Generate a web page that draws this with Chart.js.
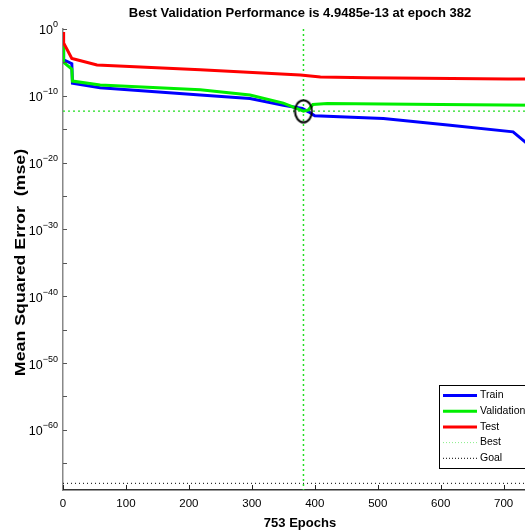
<!DOCTYPE html>
<html>
<head>
<meta charset="UTF-8">
<title>Best Validation Performance</title>
<style>
  html, body { margin: 0; padding: 0; background: #fff; overflow: hidden; }
  #wrap { width: 545px; height: 531px; }
</style>
</head>
<body>
<div id="wrap"><canvas id="perfChart" width="545" height="531"></canvas></div>
<script src="https://cdn.jsdelivr.net/npm/chart.js"></script>
<script>
// values (epoch, mse)
const trainEpochs = [0, 1, 14, 15, 59, 218, 297, 350, 380, 390, 400, 509, 615, 715, 734, 753];
const trainMse = [4e-3, 2.5e-5, 6.3e-6, 7.9e-9, 1.6e-9, 1.3e-10, 4e-11, 4e-12, 1.3e-12, 4e-13, 1e-13, 4e-14, 4e-15, 4e-16, 1.3e-17, 3.2e-19];

const valEpochs = [0, 1, 14, 15, 59, 218, 297, 350, 366, 382, 390, 397, 420, 600, 753];
const valMse = [4e-3, 1e-5, 1e-6, 1.6e-8, 4e-9, 8e-10, 1.3e-10, 8e-12, 2e-12, 4.9485e-13, 8e-13, 5e-12, 7e-12, 5e-12, 4e-12];

const testEpochs = [0, 1, 14, 22, 54, 218, 377, 409, 483, 707, 753];
const testMse = [0.35, 8e-3, 4e-5, 2.5e-5, 4e-6, 8e-7, 1.3e-7, 6.3e-8, 5e-8, 3.2e-8, 3.2e-8];

const bestEpoch = 382;
const bestPerf = 4.9485e-13;
const goalMse = 1e-68;
const totalEpochs = 753;
const xTicks = [0, 100, 200, 300, 400, 500, 600, 700];
const yTickExps = [0, -5, -10, -15, -20, -25, -30, -35, -40, -45, -50, -55, -60, -65];
const yMin = 1e-69, yMax = 1;
const yTitle = 'Mean Squared Error  (mse)';

const FONT = "'Liberation Sans', Arial, Helvetica, sans-serif";
const BEST_GREEN = '#22dd22';

function pts(xs, ys) { return xs.map((x, i) => ({ x: x, y: ys[i] })); }

// ellipse marker for the best point
const ring = document.createElement('canvas');
ring.width = 20; ring.height = 25;
(function () {
  const c = ring.getContext('2d');
  c.strokeStyle = '#000'; c.lineWidth = 2;
  c.beginPath(); c.ellipse(10, 12.5, 8.5, 11, 0, 0, Math.PI * 2); c.stroke();
})();

const legendRows = [
  { text: 'Train', color: '#0000ff', width: 3, dash: [] },
  { text: 'Validation', color: '#00ee00', width: 3, dash: [] },
  { text: 'Test', color: '#ff0000', width: 3, dash: [] },
  { text: 'Best', color: '#88ee88', width: 1, dash: [1, 2] },
  { text: 'Goal', color: '#000000', width: 1, dash: [1, 2] }
];

const axisExtras = {
  id: 'axisExtras',
  afterDraw(chart) {
    const ctx = chart.ctx, a = chart.chartArea;
    const xs = chart.scales.x, ys = chart.scales.y;
    ctx.save();
    // inward tick marks
    ctx.strokeStyle = '#555'; ctx.lineWidth = 1;
    ys.ticks.forEach(t => {
      const p = Math.round(ys.getPixelForValue(t.value)) + 0.5;
      ctx.beginPath(); ctx.moveTo(a.left, p); ctx.lineTo(a.left + 4, p); ctx.stroke();
    });
    ctx.strokeStyle = '#222';
    xs.ticks.forEach(t => {
      const p = Math.round(xs.getPixelForValue(t.value)) + 0.5;
      ctx.beginPath(); ctx.moveTo(p, a.bottom); ctx.lineTo(p, a.bottom - 5); ctx.stroke();
    });
    // y tick labels as 10 with a raised exponent
    ctx.fillStyle = '#000'; ctx.textBaseline = 'middle';
    ys.ticks.forEach(t => {
      const e = Math.round(Math.log10(t.value));
      if (e % 10 !== 0) return;
      const p = ys.getPixelForValue(t.value);
      const right = a.left - 5;
      ctx.font = '9px ' + FONT;
      const ex = String(e).replace('-', '\u2212');
      const ew = ctx.measureText(ex).width;
      ctx.textAlign = 'left';
      ctx.fillText(ex, right - ew, p - 4);
      ctx.font = '12.5px ' + FONT;
      ctx.textAlign = 'right';
      ctx.fillText('10', right - ew, p + 2);
    });
    // y axis title, stretched along the axis like the source
    ctx.save();
    ctx.translate(21, (a.top + a.bottom) / 2 + 3);
    ctx.rotate(-Math.PI / 2);
    ctx.scale(1.27, 1);
    ctx.font = 'bold 14px ' + FONT; ctx.textAlign = 'center'; ctx.textBaseline = 'middle';
    ctx.fillText(yTitle, 0, 0);
    ctx.restore();
    // legend box
    const bx = 439.5, by = 385.5, bw = 100, bh = 83;
    ctx.fillStyle = '#fff'; ctx.fillRect(bx, by, bw, bh);
    ctx.strokeStyle = '#000'; ctx.setLineDash([]); ctx.strokeRect(bx, by, bw, bh);
    ctx.font = '10.5px ' + FONT; ctx.textBaseline = 'middle'; ctx.textAlign = 'left'; ctx.fillStyle = '#000';
    legendRows.forEach((r, i) => {
      const y = 395.5 + i * 15.7;
      ctx.save();
      ctx.strokeStyle = r.color; ctx.lineWidth = r.width; ctx.setLineDash(r.dash);
      ctx.beginPath(); ctx.moveTo(443, y); ctx.lineTo(477, y); ctx.stroke();
      ctx.restore();
      ctx.fillText(r.text, 480, y);
    });
    ctx.restore();
  }
};

new Chart(document.getElementById('perfChart'), {
  type: 'line',
  data: {
    datasets: [
      { label: 'Best point', data: [{ x: bestEpoch, y: bestPerf }], pointStyle: ring, pointRadius: 10, showLine: false },
      { label: 'Test', data: pts(testEpochs, testMse), borderColor: '#ff0000', borderWidth: 3, pointRadius: 0 },
      { label: 'Validation', data: pts(valEpochs, valMse), borderColor: '#00ee00', borderWidth: 3, pointRadius: 0 },
      { label: 'Train', data: pts(trainEpochs, trainMse), borderColor: '#0000ff', borderWidth: 3, pointRadius: 0 },
      { label: 'Best', data: [{ x: bestEpoch, y: yMax }, { x: bestEpoch, y: yMin }], borderColor: BEST_GREEN, borderWidth: 1.5, borderDash: [2, 3], pointRadius: 0 },
      { label: 'Best h', data: [{ x: 0, y: bestPerf }, { x: totalEpochs, y: bestPerf }], borderColor: BEST_GREEN, borderWidth: 1.2, borderDash: [2, 3], pointRadius: 0 },
      { label: 'Goal', data: [{ x: 0, y: goalMse }, { x: totalEpochs, y: goalMse }], borderColor: '#000000', borderWidth: 1, borderDash: [1, 3], pointRadius: 0 }
    ]
  },
  options: {
    responsive: false,
    animation: false,
    layout: { padding: { left: 0, right: 8, top: 0, bottom: 0 }, autoPadding: false },
    elements: { line: { tension: 0 } },
    plugins: {
      legend: { display: false },
      tooltip: { enabled: false },
      title: {
        display: true,
        fullSize: false,
        text: 'Best Validation Performance is 4.9485e-13 at epoch 382',
        color: '#000',
        font: { family: FONT, size: 13, weight: 'bold', lineHeight: 1.2 },
        padding: { top: 6, bottom: 7.4 }
      }
    },
    scales: {
      x: {
        type: 'linear',
        min: 0, max: totalEpochs,
        afterBuildTicks: s => { s.ticks = xTicks.map(v => ({ value: v })); },
        afterFit: s => { s.height = 41; },
        grid: { display: false, drawTicks: false },
        border: { display: true, color: '#333', width: 1.5 },
        ticks: { color: '#000', padding: 7, font: { family: FONT, size: 11.5 }, maxRotation: 0 },
        title: { display: true, text: '753 Epochs', color: '#000', font: { family: FONT, size: 13, weight: 'bold', lineHeight: 1.2 }, padding: { top: 0, bottom: 0 } }
      },
      y: {
        type: 'logarithmic',
        min: yMin, max: yMax,
        afterBuildTicks: s => { s.ticks = yTickExps.map(e => ({ value: Math.pow(10, e) })); },
        afterFit: s => { s.width = 63; },
        grid: { display: false, drawTicks: false },
        border: { display: true, color: '#888', width: 1.5 },
        ticks: { display: false },
        title: { display: false }
      }
    }
  },
  plugins: [axisExtras]
});
</script>
</body>
</html>
